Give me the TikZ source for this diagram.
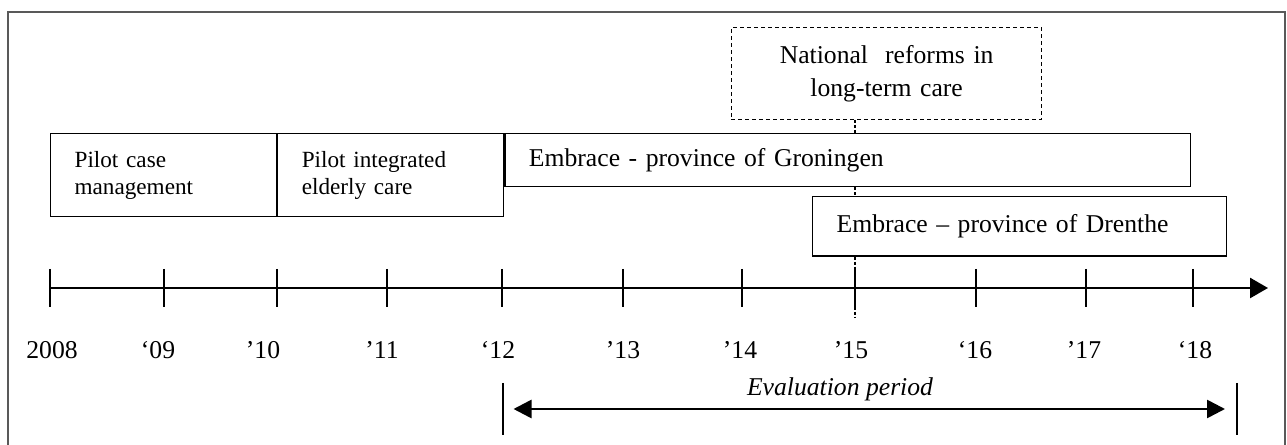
\documentclass[tikz,border=0pt]{standalone}
\usepackage{fontspec}
\setmainfont{Liberation Serif}
\usetikzlibrary{positioning, arrows.meta}

\begin{document}
\begin{tikzpicture}[
    x=0.02cm, y=-0.02cm,
    phase/.style={rectangle, draw, fill=white, line width=0.7pt, inner xsep=0.48cm, inner ysep=0pt, align=left, font=\fontsize{14.6}{17}\selectfont},
    pilot/.style={phase, text width=3.56cm, minimum height=1.66cm, font=\fontsize{13.2}{15.4}\selectfont},
    reform/.style={rectangle, draw, dash pattern=on 0.08cm off 0.06cm, line width=0.7pt, fill=white, inner xsep=0.2cm, text width=5.81cm, minimum height=1.83cm, align=center, font=\fontsize{14.6}{18.5}\selectfont},
    year/.style={font=\fontsize{14.6}{17}\selectfont, inner sep=0pt},
    axis/.style={-{Triangle[length=0.36cm, width=0.4cm]}, line width=1.5pt},
    tick/.style={line width=1.5pt},
    guide/.style={dash pattern=on 0.06cm off 0.04cm, line width=0.7pt},
    bar/.style={line width=1pt},
    period/.style={{Triangle[length=0.36cm, width=0.36cm]}-{Triangle[length=0.36cm, width=0.36cm]}, line width=1.5pt, shorten <=0.21cm, shorten >=0.24cm},
    frame/.style={draw=black!65, line width=0.8pt}
  ]
    \useasboundingbox (0,0) rectangle (1287,445);

    % Frame
    \draw[frame] (8,450) |- (1285,12) -- (1285,450);

    % Programmes
    \node[pilot, anchor=north west] (pilotCM) at (50,133) {Pilot case\\management};
    \node[pilot, right=0pt of pilotCM] (pilotIEC) {Pilot integrated\\elderly care};
    \node[phase, text width=12.76cm, minimum height=1.06cm, anchor=north west] (groningen) at (pilotIEC.north east) {Embrace - province of Groningen};
    \node[phase, text width=7.32cm, minimum height=1.19cm, anchor=north west] (drenthe) at (812,196) {Embrace – province of Drenthe};
    \node[reform] (reforms) at (886.6,73.5) {National\ \ reforms in\\long-term care};

    % Timeline
    \coordinate (t08) at (50,288);
    \coordinate (t09) at (164,288);
    \coordinate (t10) at (277,288);
    \coordinate (t11) at (387,288);
    \coordinate (t12) at (502,288);
    \coordinate (t13) at (623,288);
    \coordinate (t14) at (742,288);
    \coordinate (t15) at (855,288);
    \coordinate (t16) at (976,288);
    \coordinate (t17) at (1086,288);
    \coordinate (t18) at (1193,288);
    \coordinate (axisEnd) at (1268,288);
    \coordinate (guideEnd) at (855,318);

    % Reform line down to '15
    \draw[guide] (reforms.south -| t15) -- (groningen.north -| t15);
    \draw[guide] (groningen.south -| t15) -- (drenthe.north -| t15);
    \draw[guide] (drenthe.south -| t15) -- (guideEnd);

    \draw[axis] (t08) -- (axisEnd);
    \draw[tick] (t08) ++(0,-19) -- ++(0,38);
    \draw[tick] (t09) ++(0,-19) -- ++(0,38);
    \draw[tick] (t10) ++(0,-19) -- ++(0,38);
    \draw[tick] (t11) ++(0,-19) -- ++(0,38);
    \draw[tick] (t12) ++(0,-19) -- ++(0,38);
    \draw[tick] (t13) ++(0,-19) -- ++(0,38);
    \draw[tick] (t14) ++(0,-19) -- ++(0,38);
    \draw[tick] (t15) ++(0,-19) -- ++(0,38);
    \draw[tick] (t16) ++(0,-19) -- ++(0,38);
    \draw[tick] (t17) ++(0,-19) -- ++(0,38);
    \draw[tick] (t18) ++(0,-19) -- ++(0,38);

    % Years
    \node[year] (y08) at (52,350) {2008};
    \node[year] (y09) at (158,350) {‘09};
    \node[year] (y10) at (263,350) {’10};
    \node[year] (y11) at (382,350) {’11};
    \node[year] (y12) at (498,350) {‘12};
    \node[year] (y13) at (623,350) {’13};
    \node[year] (y14) at (740,350) {’14};
    \node[year] (y15) at (851,350) {’15};
    \node[year] (y16) at (975,350) {‘16};
    \node[year] (y17) at (1084,350) {’17};
    \node[year] (y18) at (1195,350) {‘18};

    % Evaluation period
    \coordinate (evalStart) at (503,409);
    \coordinate (evalEnd) at (1237,409);
    \draw[bar] (evalStart) ++(0,-26) -- ++(0,52);
    \draw[bar] (evalEnd) ++(0,-26) -- ++(0,52);
    \draw[period] (evalStart) -- (evalEnd);
    \node[year, font=\fontsize{14.6}{17}\selectfont\itshape] (evalLabel) at (840,389) {Evaluation period};
  \end{tikzpicture}
\end{document}
